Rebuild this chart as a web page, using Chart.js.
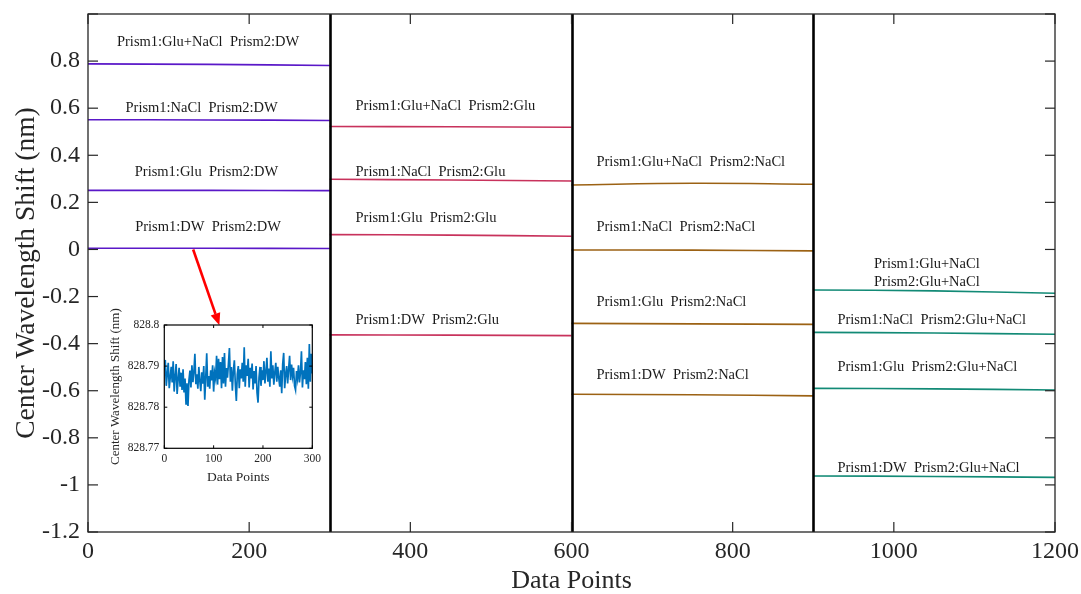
<!DOCTYPE html>
<html>
<head>
<meta charset="utf-8">
<title>Center Wavelength Shift</title>
<script src="https://cdn.jsdelivr.net/npm/chart.js@4.4.1/dist/chart.umd.min.js"></script>
<style>
  html, body { margin: 0; padding: 0; background: #ffffff; }
  #wrap { position: relative; width: 1081px; height: 594px; overflow: hidden; }
  #main { position: absolute; left: 0; top: 0; }
  #insetBox { position: absolute; left: 100px; top: 290px; width: 230px; height: 200px; }
</style>
</head>
<body>
<div id="wrap">
  <canvas id="main" width="1081" height="594"></canvas>
  <div id="insetBox"><canvas id="inset" width="230" height="200"></canvas></div>
</div>
<script>
// ---- data: shift (nm) per Prism2 medium, sampled at start / middle / end of each run ----
const runDW_X      = [0, 150, 300];
const runGlu_X     = [300, 450, 600];
const runNaCl_X    = [600, 750, 900];
const runGluNaCl_X = [900, 1050, 1200];

// rows: Prism1 = Glu+NaCl, NaCl, Glu, DW
const prism2DW = [
  [0.788, 0.786, 0.781],
  [0.551, 0.550, 0.548],
  [0.251, 0.251, 0.250],
  [0.005, 0.005, 0.004]
];
const prism2Glu = [
  [0.522, 0.521, 0.519],
  [0.298, 0.295, 0.291],
  [0.063, 0.061, 0.056],
  [-0.363, -0.364, -0.366]
];
const prism2NaCl = [
  [0.274, 0.281, 0.277],
  [-0.002, -0.003, -0.006],
  [-0.314, -0.316, -0.318],
  [-0.615, -0.617, -0.622]
];
const prism2GluNaCl = [
  [-0.172, -0.176, -0.186],
  [-0.352, -0.355, -0.360],
  [-0.590, -0.592, -0.597],
  [-0.962, -0.964, -0.968]
];

const runBounds = [300, 600, 900];

const xTickValues = [0, 200, 400, 600, 800, 1000, 1200];
const xTickLabels = ['0', '200', '400', '600', '800', '1000', '1200'];
const yTickValues = [-1.2, -1, -0.8, -0.6, -0.4, -0.2, 0, 0.2, 0.4, 0.6, 0.8, 1.0];
const yTickLabels = ['-1.2', '-1', '-0.8', '-0.6', '-0.4', '-0.2', '0', '0.2', '0.4', '0.6', '0.8', ''];

// condition labels for each run
const labelsDW      = ['Prism1:Glu+NaCl  Prism2:DW', 'Prism1:NaCl  Prism2:DW', 'Prism1:Glu  Prism2:DW', 'Prism1:DW  Prism2:DW'];
const labelsGlu     = ['Prism1:Glu+NaCl  Prism2:Glu', 'Prism1:NaCl  Prism2:Glu', 'Prism1:Glu  Prism2:Glu', 'Prism1:DW  Prism2:Glu'];
const labelsNaCl    = ['Prism1:Glu+NaCl  Prism2:NaCl', 'Prism1:NaCl  Prism2:NaCl', 'Prism1:Glu  Prism2:NaCl', 'Prism1:DW  Prism2:NaCl'];
const labelsGluNaCl = [['Prism1:Glu+NaCl', 'Prism2:Glu+NaCl'], 'Prism1:NaCl  Prism2:Glu+NaCl', 'Prism1:Glu  Prism2:Glu+NaCl', 'Prism1:DW  Prism2:Glu+NaCl'];

// ---- inset: raw center wavelength (nm) of the DW/DW run, every 2nd data point ----
const insetX_ticks = [0, 100, 200, 300];
const insetX_labels = ['0', '100', '200', '300'];
const insetY_ticks = [828.77, 828.78, 828.79, 828.8];
const insetY_labels = ['828.77', '828.78', '828.79', '828.8'];
const insetWavelength = [
  828.7890, 828.7915, 828.7852, 828.7880, 828.7908, 828.7846, 828.7872, 828.7898,
  828.7860, 828.7912, 828.7838, 828.7874, 828.7905, 828.7832, 828.7868, 828.7896,
  828.7850, 828.7884, 828.7842, 828.7892, 828.7836, 828.7870, 828.7808, 828.7858,
  828.7803, 828.7866, 828.7889, 828.7848, 828.7902, 828.7861, 828.7886, 828.7930,
  828.7856, 828.7880, 828.7845, 828.7898, 828.7864, 828.7839, 828.7885, 828.7857,
  828.7900, 828.7818, 828.7872, 828.7931, 828.7850, 828.7876, 828.7845, 828.7890,
  828.7865, 828.7902, 828.7838, 828.7884, 828.7870, 828.7925, 828.7855, 828.7918,
  828.7868, 828.7910, 828.7846, 828.7922, 828.7858, 828.7932, 828.7850, 828.7895,
  828.7872, 828.7905, 828.7944, 828.7862, 828.7898, 828.7840, 828.7888, 828.7914,
  828.7856, 828.7815, 828.7880, 828.7900, 828.7846, 828.7892, 828.7870, 828.7908,
  828.7862, 828.7946, 828.7850, 828.7902, 828.7876, 828.7918, 828.7848, 828.7896,
  828.7870, 828.7906, 828.7843, 828.7888, 828.7858, 828.7900, 828.7835, 828.7811,
  828.7872, 828.7898, 828.7852, 828.7890, 828.7866, 828.7912, 828.7858, 828.7886,
  828.7920, 828.7862, 828.7894, 828.7850, 828.7936, 828.7870, 828.7902, 828.7855,
  828.7884, 828.7908, 828.7862, 828.7898, 828.7872, 828.7850, 828.7890, 828.7834,
  828.7905, 828.7932, 828.7846, 828.7880, 828.7900, 828.7858, 828.7892, 828.7925,
  828.7866, 828.7904, 828.7876, 828.7896, 828.7852, 828.7842, 828.7888, 828.7870,
  828.7902, 828.7860, 828.7884, 828.7936, 828.7848, 828.7890, 828.7868, 828.7910,
  828.7856, 828.7920, 828.7845, 828.7954, 828.7862, 828.7930, 828.7882
];
const insetStep = 2;

// ---- styling ----
const SERIF = '"Liberation Serif", "Times New Roman", Times, serif';
const AXIS_COLOR = '#262626';
const runColors = ['#5a18c8', '#c8325c', '#9c6214', '#128a76'];

Chart.defaults.font.family = SERIF;
Chart.defaults.color = AXIS_COLOR;

const runs = [
  { x: runDW_X, rows: prism2DW, labels: labelsDW },
  { x: runGlu_X, rows: prism2Glu, labels: labelsGlu },
  { x: runNaCl_X, rows: prism2NaCl, labels: labelsNaCl },
  { x: runGluNaCl_X, rows: prism2GluNaCl, labels: labelsGluNaCl }
];

const datasets = [];
runs.forEach((run, r) => {
  run.rows.forEach(vals => {
    datasets.push({
      data: run.x.map((x, i) => ({ x: x, y: vals[i] })),
      borderColor: runColors[r],
      borderWidth: 1.6,
      pointRadius: 0,
      tension: 0.4,
      fill: false
    });
  });
});

// where each condition label sits, in data units (x, y) and how it is aligned
const labelPlacement = [
  [[149, 0.881, 'center'], [141, 0.601, 'center'], [147, 0.329, 'center'], [149, 0.096, 'center']],
  [[332, 0.607, 'left'], [332, 0.330, 'left'], [332, 0.133, 'left'], [332, -0.300, 'left']],
  [[631, 0.369, 'left'], [631, 0.094, 'left'], [631, -0.222, 'left'], [631, -0.533, 'left']],
  [[1041, -0.100, 'center'], [930, -0.300, 'left'], [930, -0.498, 'left'], [930, -0.929, 'left']]
];

// arrow from the DW/DW trace down to the inset
const arrowFrom = { x: 130.5, y: 0.0 };
const arrowTo = { x: 163, y: -0.322 };

function seg(ctx, x1, y1, x2, y2) {
  ctx.beginPath(); ctx.moveTo(x1, y1); ctx.lineTo(x2, y2); ctx.stroke();
}

const mainFrame = {
  id: 'mainFrame',
  afterDatasetsDraw(chart) {
    const { ctx, chartArea: a, scales: { x, y } } = chart;
    ctx.save();
    // run separators
    ctx.strokeStyle = '#000000';
    ctx.lineWidth = 2.6;
    runBounds.forEach(v => {
      const px = Math.round(x.getPixelForValue(v)) + 0.5;
      seg(ctx, px, a.top, px, a.bottom);
    });
    // box
    ctx.strokeStyle = AXIS_COLOR;
    ctx.lineWidth = 1.3;
    ctx.strokeRect(a.left, a.top, a.right - a.left, a.bottom - a.top);
    // inward ticks on all four sides
    ctx.lineWidth = 1.2;
    xTickValues.forEach(v => {
      const px = x.getPixelForValue(v);
      seg(ctx, px, a.bottom, px, a.bottom - 10);
      seg(ctx, px, a.top, px, a.top + 10);
    });
    yTickValues.forEach(v => {
      const py = y.getPixelForValue(v);
      seg(ctx, a.left, py, a.left + 10, py);
      seg(ctx, a.right, py, a.right - 10, py);
    });
    // condition labels
    ctx.fillStyle = '#1a1a1a';
    ctx.font = '14.5px ' + SERIF;
    ctx.textBaseline = 'middle';
    runs.forEach((run, r) => {
      run.labels.forEach((txt, i) => {
        const [lx, ly, align] = labelPlacement[r][i];
        ctx.textAlign = align;
        const px = x.getPixelForValue(lx);
        const py = y.getPixelForValue(ly);
        if (Array.isArray(txt)) {
          const lh = 18.5;
          txt.forEach((t, k) => ctx.fillText(t, px, py + (k - (txt.length - 1) / 2) * lh));
        } else {
          ctx.fillText(txt, px, py);
        }
      });
    });
    // red arrow
    const x1 = x.getPixelForValue(arrowFrom.x), y1 = y.getPixelForValue(arrowFrom.y);
    const x2 = x.getPixelForValue(arrowTo.x), y2 = y.getPixelForValue(arrowTo.y);
    const ang = Math.atan2(y2 - y1, x2 - x1);
    const headLen = 12, headHalf = 5;
    const bx = x2 - headLen * Math.cos(ang), by = y2 - headLen * Math.sin(ang);
    ctx.strokeStyle = '#ff0000';
    ctx.fillStyle = '#ff0000';
    ctx.lineWidth = 2.6;
    seg(ctx, x1, y1, bx, by);
    ctx.beginPath();
    ctx.moveTo(x2, y2);
    ctx.lineTo(bx + headHalf * Math.sin(ang), by - headHalf * Math.cos(ang));
    ctx.lineTo(bx - headHalf * Math.sin(ang), by + headHalf * Math.cos(ang));
    ctx.closePath();
    ctx.fill();
    ctx.restore();
  }
};

new Chart(document.getElementById('main'), {
  type: 'line',
  data: { datasets: datasets },
  options: {
    responsive: false,
    animation: false,
    events: [],
    layout: { padding: { left: 0, top: 14, right: 26, bottom: 0 } },
    plugins: { legend: { display: false }, tooltip: { enabled: false } },
    scales: {
      x: {
        type: 'linear',
        min: 0, max: 1200,
        grid: { display: false, drawTicks: false },
        border: { display: false },
        afterBuildTicks: s => { s.ticks = xTickValues.map(v => ({ value: v })); },
        afterFit: s => { s.height = 62; s.paddingLeft = 0; s.paddingRight = 0; },
        ticks: {
          callback: (v, i) => xTickLabels[i],
          font: { size: 24 },
          padding: 5,
          maxRotation: 0,
          color: AXIS_COLOR
        },
        title: {
          display: true,
          text: 'Data Points',
          font: { size: 26, lineHeight: 1 },
          padding: 0,
          color: AXIS_COLOR
        }
      },
      y: {
        type: 'linear',
        min: -1.2, max: 1.0,
        grid: { display: false, drawTicks: false },
        border: { display: false },
        afterBuildTicks: s => { s.ticks = yTickValues.map(v => ({ value: v })); },
        afterFit: s => { s.width = 88; s.paddingTop = 0; s.paddingBottom = 0; },
        ticks: {
          callback: (v, i) => yTickLabels[i],
          font: { size: 24 },
          padding: 8,
          color: AXIS_COLOR
        },
        title: {
          display: true,
          text: 'Center Wavelength Shift (nm)',
          font: { size: 27.5, lineHeight: 1 },
          padding: 13,
          color: AXIS_COLOR
        }
      }
    }
  },
  plugins: [mainFrame]
});

// ---- inset chart ----
const insetFrame = {
  id: 'insetFrame',
  beforeDraw(chart) {
    const { ctx, chartArea: a } = chart;
    ctx.save();
    ctx.fillStyle = '#ffffff';
    ctx.fillRect(a.left, a.top, a.right - a.left, a.bottom - a.top);
    ctx.restore();
  },
  afterDatasetsDraw(chart) {
    const { ctx, chartArea: a, scales: { x, y } } = chart;
    ctx.save();
    ctx.strokeStyle = '#000000';
    ctx.lineWidth = 1.2;
    ctx.strokeRect(a.left, a.top, a.right - a.left, a.bottom - a.top);
    ctx.lineWidth = 1;
    insetX_ticks.forEach(v => {
      const px = x.getPixelForValue(v);
      seg(ctx, px, a.bottom, px, a.bottom - 3);
      seg(ctx, px, a.top, px, a.top + 3);
    });
    insetY_ticks.forEach(v => {
      const py = y.getPixelForValue(v);
      seg(ctx, a.left, py, a.left + 3, py);
      seg(ctx, a.right, py, a.right - 3, py);
    });
    ctx.restore();
  }
};

new Chart(document.getElementById('inset'), {
  type: 'line',
  data: {
    datasets: [{
      data: insetWavelength.map((v, i) => ({ x: i * insetStep, y: v })),
      borderColor: '#0072bd',
      borderWidth: 1.7,
      pointRadius: 0,
      tension: 0,
      fill: false
    }]
  },
  options: {
    responsive: false,
    animation: false,
    events: [],
    layout: { padding: { left: 0, top: 35, right: 17.7, bottom: 0 } },
    plugins: { legend: { display: false }, tooltip: { enabled: false } },
    scales: {
      x: {
        type: 'linear',
        min: 0, max: 300,
        grid: { display: false, drawTicks: false },
        border: { display: false },
        afterBuildTicks: s => { s.ticks = insetX_ticks.map(v => ({ value: v })); },
        afterFit: s => { s.height = 41.7; s.paddingLeft = 0; s.paddingRight = 0; },
        ticks: {
          callback: (v, i) => insetX_labels[i],
          font: { size: 11.5 },
          padding: 4,
          maxRotation: 0,
          color: AXIS_COLOR
        },
        title: {
          display: true,
          text: 'Data Points',
          font: { size: 13.5, lineHeight: 1 },
          padding: 6,
          color: AXIS_COLOR
        }
      },
      y: {
        type: 'linear',
        min: 828.77, max: 828.8,
        grid: { display: false, drawTicks: false },
        border: { display: false },
        afterBuildTicks: s => { s.ticks = insetY_ticks.map(v => ({ value: v })); },
        afterFit: s => { s.width = 64.3; s.paddingTop = 0; s.paddingBottom = 0; },
        ticks: {
          callback: (v, i) => insetY_labels[i],
          font: { size: 11.5 },
          padding: 5,
          color: AXIS_COLOR
        },
        title: {
          display: true,
          text: 'Center Wavelength Shift (nm)',
          font: { size: 13, lineHeight: 1 },
          padding: 9,
          color: AXIS_COLOR
        }
      }
    }
  },
  plugins: [insetFrame]
});
</script>
</body>
</html>
